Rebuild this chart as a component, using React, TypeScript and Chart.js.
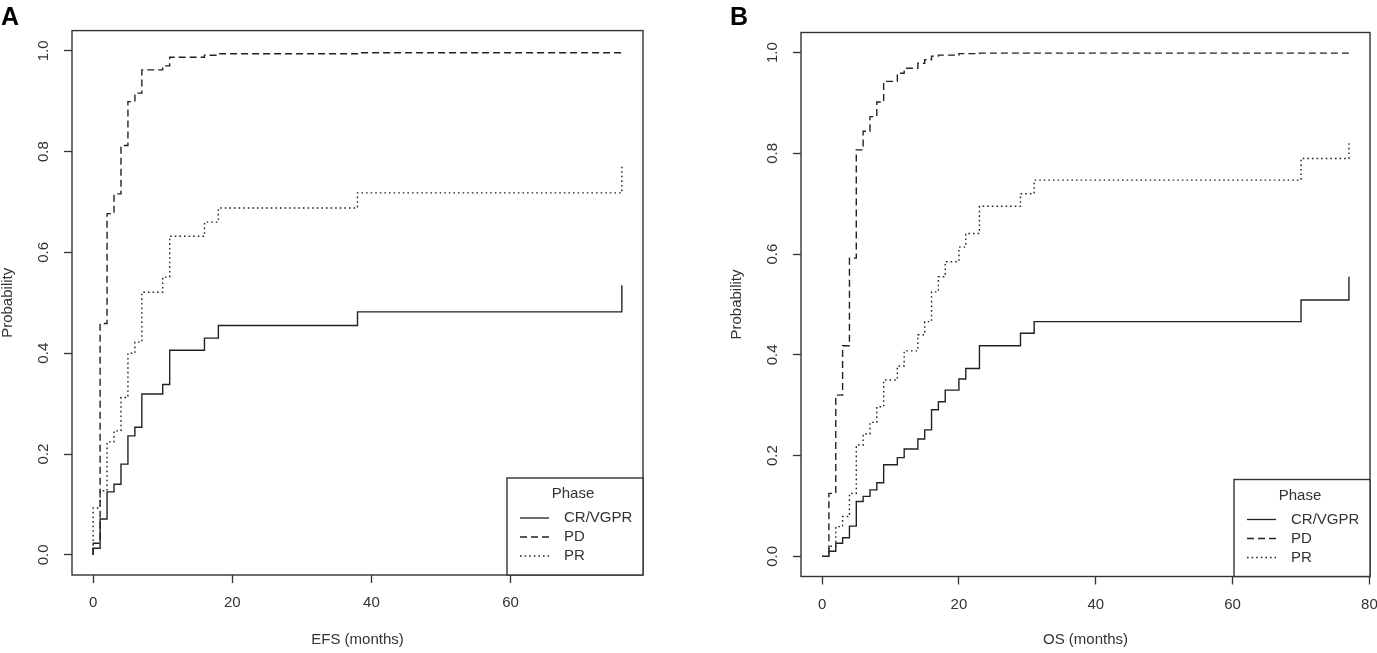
import React, { useEffect, useRef } from 'react';
import { Chart, registerables } from 'chart.js';

Chart.register(...registerables);

// legend order / line types
const phases = ['CR/VGPR', 'PD', 'PR'];
const legendTitle = 'Phase';

// A: EFS, cumulative probability by phase
const efsMonths = [0, 0, 1, 2, 3, 4, 5, 6, 7, 10, 11, 16, 18, 38, 76];
const efsCrVgpr = [0, 0.013, 0.071, 0.125, 0.14, 0.18, 0.236, 0.253, 0.319, 0.338, 0.406, 0.43, 0.455, 0.482, 0.535];
const efsPd = [0, 0.023, 0.459, 0.677, 0.716, 0.812, 0.899, 0.916, 0.962, 0.97, 0.987, 0.991, 0.994, 0.996, 0.998];
const efsPr = [0, 0.093, 0.127, 0.224, 0.246, 0.312, 0.4, 0.422, 0.521, 0.551, 0.632, 0.66, 0.688, 0.718, 0.77];

// B: OS
const osMonths = [0, 1, 2, 3, 4, 5, 6, 7, 8, 9, 11, 12, 14, 15, 16, 17, 18, 20, 21, 23, 29, 31, 70, 77];
const osCrVgpr = [0, 0.01, 0.026, 0.037, 0.06, 0.109, 0.119, 0.132, 0.146, 0.182, 0.196, 0.213, 0.233, 0.251, 0.291, 0.307, 0.33, 0.352, 0.373, 0.418, 0.443, 0.466, 0.509, 0.555];
const osPd = [0, 0.125, 0.32, 0.418, 0.592, 0.807, 0.844, 0.873, 0.902, 0.943, 0.959, 0.969, 0.979, 0.986, 0.993, 0.995, 0.995, 0.998, 0.998, 0.999, 0.999, 0.999, 0.999, 1.0];
const osPr = [0, 0.02, 0.059, 0.079, 0.125, 0.221, 0.243, 0.266, 0.297, 0.35, 0.378, 0.408, 0.44, 0.466, 0.525, 0.555, 0.585, 0.614, 0.641, 0.695, 0.72, 0.747, 0.79, 0.825];

const efsTicks = [0, 20, 40, 60];
const osTicks = [0, 20, 40, 60, 80];
const probTicks = [0, 0.2, 0.4, 0.6, 0.8, 1.0];

const FONT = '"Liberation Sans", Arial, Helvetica, sans-serif';
const INK = '#222';
const TEXT = '#333';
const H = 653;
const dashes = [[], [7, 4], [1.6, 3]];

const KmPanel = ({ letter, xTitle, months, probs, xTicks, left, width, top, bottom, rightGap }: any) => {
  const canvasRef = useRef<HTMLCanvasElement | null>(null);

  useEffect(() => {
    const xMax = months[months.length - 1];

    // R style box, tick labels, legend and panel letter
    const rFrame = {
      id: 'rFrame',
      afterDraw(chart: any) {
        const { ctx, chartArea: a } = chart;
        const xs = chart.scales.x;
        const ys = chart.scales.y;
        ctx.save();
        ctx.strokeStyle = TEXT;
        ctx.lineWidth = 1.4;
        ctx.strokeRect(a.left, a.top, a.right - a.left, a.bottom - a.top);

        ctx.fillStyle = TEXT;
        ctx.font = `15px ${FONT}`;
        ctx.textAlign = 'center';
        ctx.textBaseline = 'middle';
        xs.ticks.forEach((t: any) => {
          ctx.fillText(String(t.value), xs.getPixelForValue(t.value), a.bottom + 28);
        });
        ys.ticks.forEach((t: any) => {
          ctx.save();
          ctx.translate(a.left - 28, ys.getPixelForValue(t.value));
          ctx.rotate(-Math.PI / 2);
          ctx.fillText(t.value.toFixed(1), 0, 0);
          ctx.restore();
        });

        // legend box in the bottom right corner
        const bw = 136, bh = 97;
        ctx.fillStyle = '#fff';
        ctx.fillRect(a.right - bw, a.bottom - bh, bw, bh);
        ctx.strokeRect(a.right - bw, a.bottom - bh, bw, bh);
        ctx.fillStyle = TEXT;
        ctx.fillText(legendTitle, a.right - 70, a.bottom - 81);
        chart.data.datasets.forEach((ds: any, i: number) => {
          const ry = a.bottom - 57 + i * 19;
          ctx.strokeStyle = INK;
          ctx.lineWidth = 1.3;
          ctx.setLineDash(dashes[i]);
          ctx.beginPath();
          ctx.moveTo(a.right - 123, ry);
          ctx.lineTo(a.right - 94, ry);
          ctx.stroke();
          ctx.setLineDash([]);
          ctx.textAlign = 'left';
          ctx.fillText(ds.label, a.right - 79, ry);
        });

        ctx.fillStyle = '#000';
        ctx.font = `bold 25px ${FONT}`;
        ctx.textAlign = 'left';
        ctx.textBaseline = 'alphabetic';
        ctx.fillText(letter, 1, 25);
        ctx.restore();
      },
    };

    const chart = new Chart(canvasRef.current as HTMLCanvasElement, {
      type: 'line',
      data: {
        datasets: probs.map((p: number[], i: number) => ({
          label: phases[i],
          data: months.map((m: number, j: number) => ({ x: m, y: p[j] })),
          stepped: true,
          borderColor: INK,
          borderWidth: 1.4,
          borderDash: dashes[i],
          pointRadius: 0,
          fill: false,
        })),
      },
      options: {
        animation: false,
        responsive: false,
        maintainAspectRatio: false,
        layout: { autoPadding: false, padding: { top, right: rightGap, left: 0, bottom: 0 } },
        plugins: { legend: { display: false }, tooltip: { enabled: false } },
        scales: {
          x: {
            type: 'linear',
            min: -0.04 * xMax,
            max: 1.04 * xMax,
            afterBuildTicks: (ax: any) => { ax.ticks = xTicks.map((v: number) => ({ value: v })); },
            afterFit: (ax: any) => { ax.height = H - bottom; },
            border: { display: false },
            grid: { drawOnChartArea: false, tickLength: 8, tickColor: TEXT, tickWidth: 1.3 },
            ticks: { display: false },
            title: { display: true, text: xTitle, color: TEXT, font: { family: FONT, size: 15, lineHeight: '16px' }, padding: { top: 0, bottom: 5 } },
          },
          y: {
            min: -0.04,
            max: 1.04,
            afterBuildTicks: (ax: any) => { ax.ticks = probTicks.map((v) => ({ value: v })); },
            afterFit: (ax: any) => { ax.width = 72; },
            border: { display: false },
            grid: { drawOnChartArea: false, tickLength: 8, tickColor: TEXT, tickWidth: 1.3 },
            ticks: { display: false },
            title: { display: true, text: 'Probability', color: TEXT, font: { family: FONT, size: 15, lineHeight: '16px' }, padding: 0 },
          },
        },
      },
      plugins: [rFrame],
    } as any);

    return () => chart.destroy();
  }, []);

  return (
    <canvas
      ref={canvasRef}
      width={width}
      height={H}
      style={{ position: 'absolute', left, top: 0, width, height: H }}
    />
  );
};

export default function App() {
  return (
    <div style={{ position: 'absolute', left: 0, top: 0, width: 1377, height: H, background: '#fff', overflow: 'hidden' }}>
      <KmPanel
        letter="A"
        xTitle="EFS (months)"
        months={efsMonths}
        probs={[efsCrVgpr, efsPd, efsPr]}
        xTicks={efsTicks}
        left={0}
        width={688}
        top={30.6}
        bottom={575}
        rightGap={45}
      />
      <KmPanel
        letter="B"
        xTitle="OS (months)"
        months={osMonths}
        probs={[osCrVgpr, osPd, osPr]}
        xTicks={osTicks}
        left={729}
        width={648}
        top={32.5}
        bottom={576.5}
        rightGap={7}
      />
    </div>
  );
}
